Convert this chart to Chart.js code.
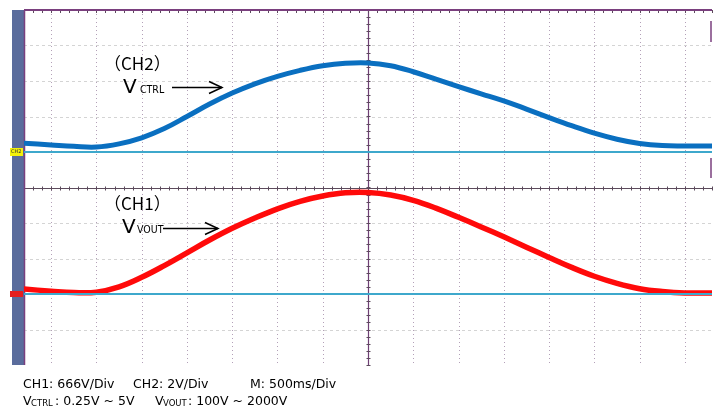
<!DOCTYPE html>
<html>
<head>
<meta charset="utf-8">
<script src="https://cdn.jsdelivr.net/npm/chart.js@4.4.1/dist/chart.umd.min.js"></script>
<style>
html,body{margin:0;padding:0;background:#fff;}
#wrap{position:relative;width:722px;height:409px;}
canvas{display:block;}
</style>
</head>
<body>
<div id="wrap"><canvas id="c" width="722" height="409"></canvas></div>
<script>
// time axis in divisions (500 ms/div), centre division = 7
const timeDiv = [-0.6, 0, 0.5, 1, 1.5, 2, 2.5, 3, 3.5, 4, 4.5, 5, 5.5, 6, 6.5, 7, 7.5, 8, 8.5, 9, 9.5, 10, 10.5, 11, 11.5, 12, 12.5, 13, 13.5, 14, 14.6];
// CH2 (V_CTRL) trace, screen divisions (upper half, ground at 6)
const ctrlTrace = [6.25, 6.20, 6.16, 6.14, 6.23, 6.40, 6.66, 7.00, 7.35, 7.66, 7.92, 8.13, 8.30, 8.43, 8.50, 8.51, 8.43, 8.26, 8.05, 7.84, 7.64, 7.44, 7.21, 6.97, 6.74, 6.53, 6.36, 6.24, 6.18, 6.17, 6.17];
// CH1 (V_VOUT) trace, screen divisions (lower half, ground at 2)
const voutTrace = [2.14, 2.08, 2.04, 2.05, 2.20, 2.47, 2.80, 3.16, 3.52, 3.85, 4.14, 4.40, 4.61, 4.76, 4.85, 4.86, 4.79, 4.64, 4.42, 4.16, 3.89, 3.61, 3.32, 3.03, 2.75, 2.50, 2.30, 2.15, 2.07, 2.03, 2.03];
// channel ground levels
const ch2Ground = 6;
const ch1Ground = 2;
const xRange = [-0.6, 14.6];
const yRange = [0, 10];
const gridX = [0,1,2,3,4,5,6,7,8,9,10,11,12,13,14];
const gridY = [1,2,3,4,5,6,7,8,9];

const pts = (xs, ys) => xs.map((x,i)=>({x:x,y:ys[i]}));

const scopePlugin = {
  id:'scope',
  beforeDatasetsDraw(chart){
    const {ctx, chartArea:a, scales:{x,y}} = chart;
    ctx.save();
    ctx.fillStyle='#5a6c9c';
    ctx.fillRect(a.left-12, a.top, 12, a.bottom-a.top);
    ctx.lineWidth=1;
    gridX.forEach(v=>{
      const px=Math.round(x.getPixelForValue(v))+0.5;
      if(v===7) return;
      ctx.strokeStyle='#b3a0b8';
      ctx.setLineDash([1,3]);
      ctx.beginPath();ctx.moveTo(px,a.top);ctx.lineTo(px,a.bottom);ctx.stroke();
    });
    gridY.forEach(v=>{
      if(v===5) return;
      const py=Math.round(y.getPixelForValue(v))+0.5;
      ctx.strokeStyle='#d4d4d4';
      ctx.setLineDash([3,3]);
      ctx.beginPath();ctx.moveTo(a.left,py);ctx.lineTo(a.right,py);ctx.stroke();
    });
    ctx.setLineDash([]);
    const cx=Math.round(x.getPixelForValue(7))+0.5;
    ctx.strokeStyle='#6e3f74';ctx.lineWidth=1.2;
    ctx.beginPath();ctx.moveTo(cx,a.top);ctx.lineTo(cx,a.bottom);ctx.stroke();
    const dy=Math.round(y.getPixelForValue(5))+0.5;
    ctx.strokeStyle='#5c4a5c';ctx.lineWidth=1.2;
    ctx.beginPath();ctx.moveTo(a.left,dy);ctx.lineTo(a.right,dy);ctx.stroke();
    ctx.lineWidth=1;
    for(let v=-0.6; v<=14.6; v+=0.2){
      const px=Math.round(x.getPixelForValue(v))+0.5;
      ctx.beginPath();ctx.moveTo(px,dy-2);ctx.lineTo(px,dy+2);ctx.stroke();
      ctx.beginPath();ctx.moveTo(px,a.top);ctx.lineTo(px,a.top+3);ctx.stroke();
    }
    for(let v=0; v<=10; v+=0.2){
      const py=Math.round(y.getPixelForValue(v))+0.5;
      ctx.beginPath();ctx.moveTo(cx-2,py);ctx.lineTo(cx+2,py);ctx.stroke();
    }
    ctx.strokeStyle='#7a3f7e';ctx.lineWidth=2;
    ctx.beginPath();ctx.moveTo(a.left,a.top);ctx.lineTo(a.right,a.top);ctx.stroke();
    ctx.strokeStyle='#7a3f7e';ctx.lineWidth=1.5;
    ctx.beginPath();ctx.moveTo(a.left+0.5,a.top);ctx.lineTo(a.left+0.5,a.bottom);ctx.stroke();
    ctx.beginPath();ctx.moveTo(a.right-1,a.top+11);ctx.lineTo(a.right-1,a.top+32);ctx.stroke();
    ctx.beginPath();ctx.moveTo(a.right-1,a.top+148);ctx.lineTo(a.right-1,a.top+168);ctx.stroke();
    ctx.restore();
  },
  afterDatasetsDraw(chart){
    const {ctx, chartArea:a, scales:{x,y}} = chart;
    ctx.save();
    const y2=y.getPixelForValue(ch2Ground), y1=y.getPixelForValue(ch1Ground);
    ctx.fillStyle='#f4f10a';
    ctx.fillRect(a.left-14, y2-4, 13, 8);
    ctx.fillStyle='#333';ctx.font='5px "DejaVu Sans"';ctx.textBaseline='middle';
    ctx.fillText('CH2', a.left-13, y2);
    ctx.fillStyle='#e61e1e';
    ctx.fillRect(a.left-14, y1-3, 13, 6);
    ctx.fillStyle='#000';ctx.strokeStyle='#000';
    ctx.textBaseline='alphabetic';
    const cjk='"Noto Sans CJK SC", "DejaVu Sans", sans-serif';
    ctx.font='17px '+cjk;
    ctx.fillText('（CH2）', 104, 70);
    ctx.fillText('（CH1）', 104, 210);
    ctx.font='20px "DejaVu Sans"';
    ctx.fillText('V', 123, 93);
    ctx.fillText('V', 122, 233);
    ctx.font='10.5px "DejaVu Sans Condensed", "DejaVu Sans"';
    ctx.fillText('CTRL', 140, 93);
    ctx.fillText('VOUT', 137, 233);
    const arrow=(x0,x1,yy)=>{
      ctx.lineWidth=1.5;
      ctx.beginPath();ctx.moveTo(x0,yy);ctx.lineTo(x1,yy);ctx.stroke();
      ctx.beginPath();ctx.moveTo(x1-13,yy-6);ctx.lineTo(x1,yy);ctx.lineTo(x1-13,yy+6);ctx.stroke();
    };
    arrow(172,222,87.5);
    arrow(163,218,228.5);
    ctx.font='12.5px "DejaVu Sans"';
    ctx.fillText('CH1: 666V/Div', 23, 388);
    ctx.fillText('CH2: 2V/Div', 133, 388);
    ctx.fillText('M: 500ms/Div', 250, 388);
    ctx.fillText('V', 23, 405);
    ctx.font='8.5px "DejaVu Sans"';
    ctx.fillText('CTRL', 31, 406);
    ctx.font='12.5px "DejaVu Sans"';
    ctx.fillText(': 0.25V ~ 5V', 55, 405);
    ctx.fillText('V', 155, 405);
    ctx.font='8.5px "DejaVu Sans"';
    ctx.fillText('VOUT', 163, 406);
    ctx.font='12.5px "DejaVu Sans"';
    ctx.fillText(': 100V ~ 2000V', 188, 405);
    ctx.restore();
  }
};

new Chart(document.getElementById('c'), {
  type:'line',
  data:{
    datasets:[
      {label:'CH2 ground', data:pts(xRange,[ch2Ground,ch2Ground]), borderColor:'#3ea8cc', borderWidth:2, pointRadius:0},
      {label:'CH1 ground', data:pts(xRange,[ch1Ground,ch1Ground]), borderColor:'#3ea8cc', borderWidth:2, pointRadius:0},
      {label:'V_CTRL', data:pts(timeDiv,ctrlTrace), borderColor:'#0a6fc0', borderWidth:5, pointRadius:0, tension:0.4, borderCapStyle:'round', borderJoinStyle:'round'},
      {label:'V_VOUT', data:pts(timeDiv,voutTrace), borderColor:'#ff0a0a', borderWidth:5.5, pointRadius:0, tension:0.4, borderCapStyle:'round', borderJoinStyle:'round'}
    ]
  },
  options:{
    responsive:false, animation:false, devicePixelRatio:1,
    layout:{padding:{left:24,right:10,top:10,bottom:44}},
    plugins:{legend:{display:false}, tooltip:{enabled:false}},
    scales:{
      x:{type:'linear', min:xRange[0], max:xRange[1], display:false},
      y:{type:'linear', min:yRange[0], max:yRange[1], display:false}
    }
  },
  plugins:[scopePlugin]
});
</script>
</body>
</html>
